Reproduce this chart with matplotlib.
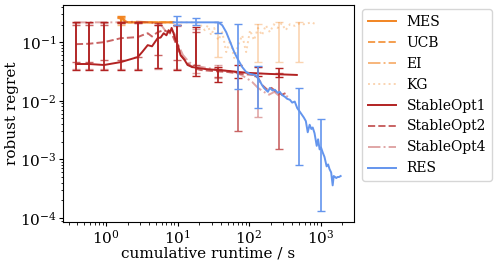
import numpy as np
import matplotlib.pyplot as plt

plt.rcParams['font.family'] = 'DejaVu Serif'
plt.rcParams['mathtext.fontset'] = 'dejavuserif'
plt.rcParams['font.size'] = 11

# --- Daten (Laufzeit in s, robuster Regret) ---
mes_x = [1.5, 1.7, 1.85, 3.0, 6.0, 8.8]
mes_y = [0.26, 0.26, 0.218, 0.218, 0.218, 0.218]
mes_ex, mes_lo, mes_hi = [1.6], [0.22], [0.28]

ucb_x = [1.55, 1.75, 1.9, 4.0, 8.8]
ucb_y = [0.25, 0.25, 0.218, 0.218, 0.218]
ucb_ex, ucb_lo, ucb_hi = [1.62], [0.21], [0.27]

ei_x = [1.6, 1.8, 2.0, 5.0, 8.8]
ei_y = [0.24, 0.24, 0.218, 0.218, 0.218]
ei_ex, ei_lo, ei_hi = [1.64], [0.2], [0.26]

kg_x = [11.0, 17.0, 20.5, 24.0, 26.5, 29.5, 32.5, 37.0, 42.2, 47.9, 54.5, 61.9, 70.4,
        80.0, 90.9, 103, 117, 133, 151, 171, 195, 221, 251, 285, 324, 371, 434, 511,
        580, 659, 750, 850]
kg_y = [0.218, 0.218, 0.202, 0.16, 0.194, 0.131, 0.175, 0.108, 0.148, 0.0677, 0.108,
        0.0536, 0.089, 0.131, 0.0677, 0.16, 0.108, 0.175, 0.131, 0.194, 0.148, 0.202,
        0.175, 0.21, 0.16, 0.202, 0.19, 0.21, 0.202, 0.21, 0.218, 0.202]
kg_ex, kg_lo, kg_hi = [37.0, 133, 261, 495], [0.055, 0.046, 0.046, 0.046], [0.218, 0.202, 0.218, 0.218]

so1_x = [0.38, 0.58, 0.94, 1.62, 2.78, 3.2, 3.83, 4.4, 5.27, 5.8, 6.4, 7.0, 7.5, 7.9,
         8.26, 8.8, 9.4, 10.1, 11.0, 12.5, 13.8, 16.0, 19.0, 24.0, 35.9, 53.0, 70.4,
         103, 195, 464]
so1_y = [0.0424, 0.0424, 0.0408, 0.0458, 0.0557, 0.0677, 0.089, 0.085, 0.117, 0.12,
         0.142, 0.131, 0.16, 0.148, 0.175, 0.142, 0.108, 0.089, 0.0603, 0.05, 0.0408,
         0.0377, 0.0363, 0.0349, 0.0335, 0.0322, 0.031, 0.0298, 0.0287, 0.0276]
so1_ex = [0.38, 0.58, 0.94, 1.62, 2.78, 5.27, 9.7, 18.4, 37.0, 70.4, 133, 261]
so1_lo = [0.034, 0.034, 0.034, 0.034, 0.034, 0.036, 0.034, 0.026, 0.021, 0.024, 0.026, 0.025]
so1_hi = [0.22, 0.22, 0.22, 0.22, 0.22, 0.2, 0.2, 0.18, 0.037, 0.04, 0.0377, 0.036]

so2_x = [0.38, 0.58, 0.94, 1.62, 2.78, 3.2, 3.83, 4.4, 5.27, 6.4, 7.5, 8.5, 9.7, 11.0,
         13.5, 16.5, 21.0, 31.0, 50.0, 80.0, 115, 133, 151, 180, 205, 240, 290, 330]
so2_y = [0.0925, 0.094, 0.1, 0.117, 0.122, 0.131, 0.142, 0.125, 0.148, 0.16, 0.148,
         0.131, 0.089, 0.0603, 0.045, 0.0363, 0.0335, 0.0322, 0.031, 0.0287, 0.0276,
         0.0246, 0.0187, 0.0154, 0.0166, 0.0142, 0.0127, 0.0137]
so2_ex = [0.38, 0.58, 0.94, 1.62, 2.78, 5.27, 9.7, 18.4, 37.0, 70.4, 261]
so2_lo = [0.045, 0.045, 0.05, 0.05, 0.055, 0.06, 0.05, 0.04, 0.025, 0.0031, 0.0015]
so2_hi = [0.2, 0.2, 0.2, 0.21, 0.21, 0.21, 0.2, 0.15, 0.035, 0.031, 0.03]

so4_x = [0.36, 0.6, 1.0, 1.62, 2.78, 4.0, 5.8, 7.0, 8.3, 9.4, 10.3, 11.9, 14.7, 18.4,
         26.0, 40.0, 65.0, 90.9, 110, 133, 160, 190, 225, 261, 300, 350]
so4_y = [0.218, 0.218, 0.218, 0.218, 0.225, 0.218, 0.202, 0.148, 0.16, 0.131, 0.089,
         0.0603, 0.045, 0.0392, 0.0363, 0.0335, 0.031, 0.0246, 0.021, 0.0166, 0.0142,
         0.0127, 0.0142, 0.0122, 0.0127, 0.0117]
so4_ex = [0.38, 0.58, 0.94, 1.62, 2.78, 5.27, 9.7, 18.4, 37.0, 133]
so4_lo = [0.035, 0.035, 0.035, 0.035, 0.035, 0.035, 0.035, 0.03, 0.024, 0.0052]
so4_hi = [0.21, 0.21, 0.21, 0.21, 0.21, 0.2, 0.19, 0.17, 0.04, 0.03]

res_x = [8.8, 20.0, 37.1, 42.2, 47.9, 54.5, 61.9, 70.4, 80.0, 90.9, 103, 121, 133, 151,
         161, 171, 183, 195, 212, 229, 250, 268, 290, 316, 340, 371, 400, 434, 470, 511,
         545, 580, 620, 659, 701, 740, 774, 820, 880, 920, 966, 1010, 1070, 1130, 1210,
         1270, 1330, 1400, 1470, 1520, 1590, 1650, 1720, 1800, 1900]
res_y = [0.218, 0.218, 0.218, 0.194, 0.148, 0.1, 0.0677, 0.0496, 0.0377, 0.031, 0.0287,
         0.0276, 0.0246, 0.0187, 0.0166, 0.0154, 0.0142, 0.0166, 0.015, 0.0154, 0.0137,
         0.0142, 0.0125, 0.0117, 0.0108, 0.0104, 0.0093, 0.0097, 0.0075, 0.0065, 0.0058,
         0.0052, 0.0045, 0.0029, 0.0039, 0.0033, 0.0035, 0.0028, 0.0017, 0.0022,
         0.00148, 0.0016, 0.0013, 0.0011, 0.00076, 0.00082, 0.00068, 0.0006, 0.00036,
         0.00052, 0.0005, 0.00048, 0.0005, 0.0005, 0.00052]
res_ex = [9.7, 18.4, 37.0, 70.4, 133, 495, 1000]
res_lo = [0.2, 0.2, 0.142, 0.016, 0.0076, 0.00079, 0.00013]
res_hi = [0.28, 0.26, 0.22, 0.202, 0.039, 0.0163, 0.0048]

orange = '#f28522'
red = '#b22222'
blue = 'cornflowerblue'

fig = plt.figure(figsize=(4.99, 2.66), dpi=100)
ax = fig.add_axes([0.126, 0.165, 0.583, 0.816])

serien = [
    ('MES', mes_x, mes_y, mes_ex, mes_lo, mes_hi, orange, '-', 1.0),
    ('UCB', ucb_x, ucb_y, ucb_ex, ucb_lo, ucb_hi, orange, '--', 0.8),
    ('EI', ei_x, ei_y, ei_ex, ei_lo, ei_hi, orange, '-.', 0.6),
    ('KG', kg_x, kg_y, kg_ex, kg_lo, kg_hi, orange, ':', 0.35),
    ('StableOpt1', so1_x, so1_y, so1_ex, so1_lo, so1_hi, red, '-', 1.0),
    ('StableOpt2', so2_x, so2_y, so2_ex, so2_lo, so2_hi, red, '--', 0.7),
    ('StableOpt4', so4_x, so4_y, so4_ex, so4_lo, so4_hi, red, '-.', 0.4),
    ('RES', res_x, res_y, res_ex, res_lo, res_hi, blue, '-', 1.0),
]

for name, x, y, ex, lo, hi, c, ls, a in serien:
    ax.plot(x, y, color=c, ls=ls, alpha=a, lw=1.4, label=name)
    ey = np.sqrt(np.array(lo) * np.array(hi))
    yerr = [ey - np.array(lo), np.array(hi) - ey]
    ax.errorbar(ex, ey, yerr=yerr, fmt='none', ecolor=c, alpha=a, elinewidth=1.2, capsize=3)

ax.set_xscale('log')
ax.set_yscale('log')
ax.set_xlim(0.25, 2900)
ax.set_ylim(8.5e-5, 0.43)
ax.tick_params(length=3, pad=1.5)
ax.tick_params(which='minor', length=1.8)
ax.set_xlabel('cumulative runtime / s', labelpad=0)
ax.set_ylabel('robust regret', labelpad=1)
ax.legend(loc='upper left', bbox_to_anchor=(1.015, 1.0), frameon=True, fontsize=10,
          handlelength=2.0, borderaxespad=0.3)

fig.savefig('out.png', dpi=100)
